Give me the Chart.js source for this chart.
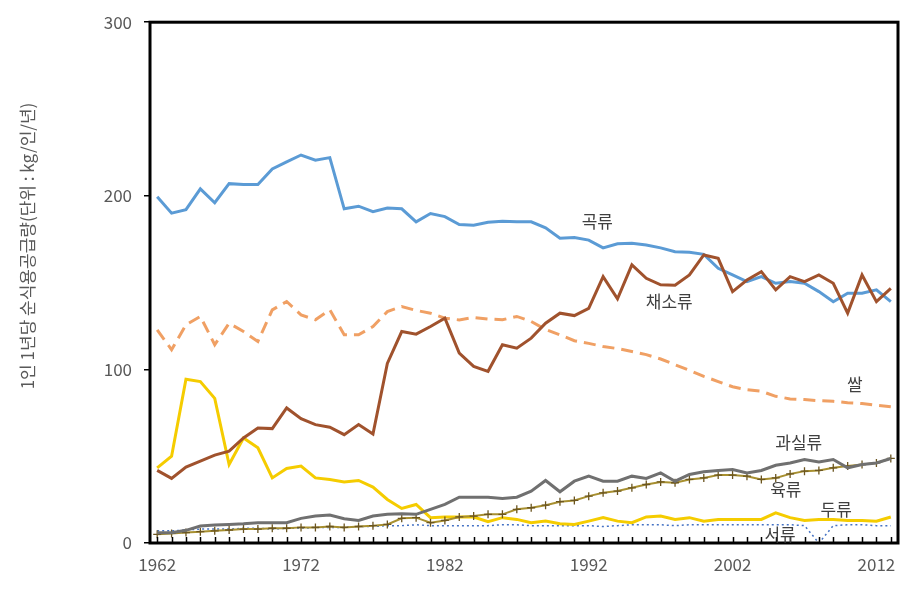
<!DOCTYPE html>
<html>
<head>
<meta charset="utf-8">
<script src="https://cdn.jsdelivr.net/npm/chart.js@4"></script>
<style>
  html, body { margin: 0; padding: 0; background: #fff; }
</style>
</head>
<body>
<canvas id="food" width="912" height="592"></canvas>
<script>
// years 1962 - 2013
var years = [];
for (var y = 1962; y <= 2013; y++) years.push(String(y));

var grain = [199.5, 190, 192, 204, 196, 207, 206.5, 206.5, 215.5, 219.5,
  223.5, 220.5, 222, 192.5, 194, 190.8, 193, 192.5, 185, 189.8,
  188, 183.5, 183, 184.7, 185.4, 185, 185, 181.6, 175.5, 176,
  174.5, 170, 172.4, 172.6, 171.7, 170, 167.8, 167.5, 166.3, 158.2,
  154.4, 150.6, 153.4, 149.6, 150.6, 149.6, 144.8, 139, 143.9, 143.9,
  145.8, 139];
var veg = [41.8, 37.2, 43.7, 47.1, 50.6, 52.9, 60.5, 66.3, 65.9, 77.8,
  71.6, 68.2, 66.7, 62.4, 68.2, 62.8, 103.4, 121.8, 120.3, 124.7,
  129.5, 109.4, 101.7, 98.9, 114.2, 112.2, 118, 126.6, 132.4, 131,
  135.2, 153.4, 140.6, 160.2, 152.5, 148.7, 148.5, 154.4, 165.9, 164,
  144.8, 151.5, 156.3, 145.8, 153.4, 150.6, 154.4, 149.6, 132.4, 154.4,
  139, 146.7];
var rice = [122.8, 111.3, 125.7, 130.5, 114.2, 126.6, 121.8, 116.1, 134.3, 139.1,
  131.4, 128.6, 134.3, 119.9, 119.9, 124.7, 133.3, 136.2, 134, 132.4,
  129.5, 128.5, 129.9, 129, 128.6, 130.5, 127.6, 123, 119.9, 116.5,
  115, 113.2, 112, 110.3, 108.5, 106, 102.7, 99.5, 96, 93,
  90, 88.3, 87.4, 84.5, 83, 82.6, 82, 81.6, 80.8, 80.3,
  79.3, 78.5];
var fruit = [5.9, 5.9, 7.3, 9.8, 10.3, 10.7, 11.1, 11.7, 11.7, 11.7,
  14.2, 15.5, 16.1, 14, 13, 15.5, 16.5, 16.9, 16.5, 19.4,
  22.2, 26.4, 26.4, 26.4, 25.7, 26.4, 29.9, 36, 29.5, 35.6,
  38.5, 35.6, 35.6, 38.5, 37.2, 40.4, 35.6, 39.5, 41, 41.8,
  42.3, 40.4, 41.8, 44.8, 46.1, 48.1, 46.7, 48.1, 43.3, 45.2,
  46.1, 48.7];
var meat = [5, 5.5, 6, 6.5, 7, 7.5, 8, 8, 8.5, 8.5,
  9, 9, 9.5, 9, 9.5, 10, 10.7, 14.2, 14.6, 11.7,
  13, 15, 15.5, 16.5, 16.5, 19.4, 20.3, 21.8, 23.8, 24.5,
  27, 28.9, 29.9, 31.8, 33.7, 35.2, 34.7, 36.6, 37.5, 39.1,
  39.1, 38.5, 36.6, 37.5, 39.8, 41.4, 41.8, 43.3, 44.3, 45.2,
  46.1, 48.7];
var beans = [43.3, 50, 94.3, 93, 83.3, 45.2, 60.5, 54.8, 37.5, 42.9,
  44.3, 37.5, 36.6, 35.2, 36, 32.2, 25.1, 19.9, 22.2, 14.6,
  15, 15, 15, 12.3, 14.6, 13.6, 11.7, 12.6, 11.1, 10.7,
  12.6, 14.6, 12.6, 11.7, 15, 15.5, 13.6, 14.6, 12.6, 13.6,
  13.6, 13.6, 13.6, 17.4, 14.6, 13, 13.6, 13.6, 13, 13,
  12.6, 15];
var potato = [7, 7, 7.5, 8, 8, 8, 8.5, 8.5, 8, 8.5,
  8.5, 9, 9, 9, 9.5, 9.5, 10, 10, 10.5, 10,
  10, 10, 10, 10, 10.5, 10.5, 10, 10, 10, 10,
  10, 9.5, 10, 10.5, 10.5, 10.5, 10, 10.5, 10.5, 10.5,
  10.5, 10.5, 10.5, 10.5, 10.5, 10, 0, 10, 10.5, 10.5,
  10, 10];

var yTicks = [0, 100, 200, 300];
var xLabelYears = ['1962', '1972', '1982', '1992', '2002', '2012'];
var yTitle = '1인 1년당 순식용공급량(단위 : kg/인/년)';

// series name labels: [text, year index, value]
var seriesNotes = [
  ['곡류', 30.6, 185],
  ['채소류', 35.6, 139],
  ['쌀', 48.5, 91.5],
  ['과실류', 44.6, 58],
  ['육류', 43.7, 31],
  ['두류', 47.2, 19.5],
  ['서류', 43.3, 4.8]
];

Chart.defaults.font.family = "'Noto Sans CJK KR', 'Noto Sans', sans-serif";

var framePlugin = {
  id: 'frame',
  afterDatasetsDraw: function(chart) {
    var c = chart.ctx, a = chart.chartArea, xs = chart.scales.x;
    c.save();
    // small inside ticks on the x axis
    c.strokeStyle = '#000';
    c.lineWidth = 1.5;
    for (var i = 0; i < years.length; i++) {
      var px = Math.round(xs.getPixelForValue(i)) + 0.5;
      c.beginPath();
      c.moveTo(px, a.bottom);
      c.lineTo(px, a.bottom - 6);
      c.stroke();
    }
    c.lineWidth = 3;
    c.strokeRect(a.left, a.top, a.right - a.left, a.bottom - a.top);
    // series names
    c.fillStyle = '#404040';
    c.font = "17px 'Noto Sans CJK KR'";
    c.textAlign = 'center';
    c.textBaseline = 'middle';
    seriesNotes.forEach(function(n) {
      c.fillText(n[0], xs.getPixelForValue(n[1]), chart.scales.y.getPixelForValue(n[2]));
    });
    // axis title, sits a bit above the middle of the plot like the source
    c.fillStyle = '#595959';
    c.font = "17px 'Noto Sans CJK KR'";
    c.translate(28, 246);
    c.rotate(-Math.PI / 2);
    c.fillText(yTitle, 0, 0);
    c.restore();
  }
};

var ctx = document.getElementById('food').getContext('2d');
var chart = new Chart(ctx, {
  type: 'line',
  data: {
    labels: years,
    datasets: [
      { label: '채소류', data: veg, borderColor: '#a0522d', borderWidth: 3, pointRadius: 0 },
      { label: '곡류', data: grain, borderColor: '#5b9bd5', borderWidth: 3, pointRadius: 0 },
      { label: '쌀', data: rice, borderColor: '#f0a064', borderWidth: 3, borderDash: [12, 7], pointRadius: 0 },
      { label: '과실류', data: fruit, borderColor: '#707070', borderWidth: 3, pointRadius: 0 },
      { label: '육류', data: meat, borderColor: '#a89030', borderWidth: 2,
        pointStyle: 'cross', pointRadius: 4, pointBorderColor: '#6b5520', pointBorderWidth: 1.3 },
      { label: '두류', data: beans, borderColor: '#f5cc00', borderWidth: 3, pointRadius: 0 },
      { label: '서류', data: potato, borderColor: '#4472c4', borderWidth: 1.5, borderDash: [2, 3], pointRadius: 0 }
    ]
  },
  options: {
    responsive: false,
    animation: false,
    maintainAspectRatio: false,
    layout: { padding: { top: 22, right: 14, bottom: 0, left: 0 } },
    elements: { line: { tension: 0, fill: false } },
    plugins: {
      legend: { display: false },
      tooltip: { enabled: false }
    },
    scales: {
      x: {
        type: 'category',
        offset: true,
        grid: { display: false },
        border: { display: false },
        ticks: {
          autoSkip: false,
          maxRotation: 0,
          padding: 3,
          color: '#595959',
          font: { size: 17 },
          callback: function(v, i) {
            return xLabelYears.indexOf(years[i]) >= 0 ? years[i] : '';
          }
        },
        afterFit: function(s) { s.height = 49; }
      },
      y: {
        min: 0,
        max: 300,
        afterBuildTicks: function(s) {
          s.ticks = yTicks.map(function(v) { return { value: v }; });
        },
        grid: { drawOnChartArea: false, color: '#000', tickLength: 6, lineWidth: 1.5 },
        border: { display: false },
        ticks: { padding: 12, color: '#595959', font: { size: 17 } },
        afterFit: function(s) { s.width = 150; }
      }
    }
  },
  plugins: [framePlugin]
});
</script>
</body>
</html>
